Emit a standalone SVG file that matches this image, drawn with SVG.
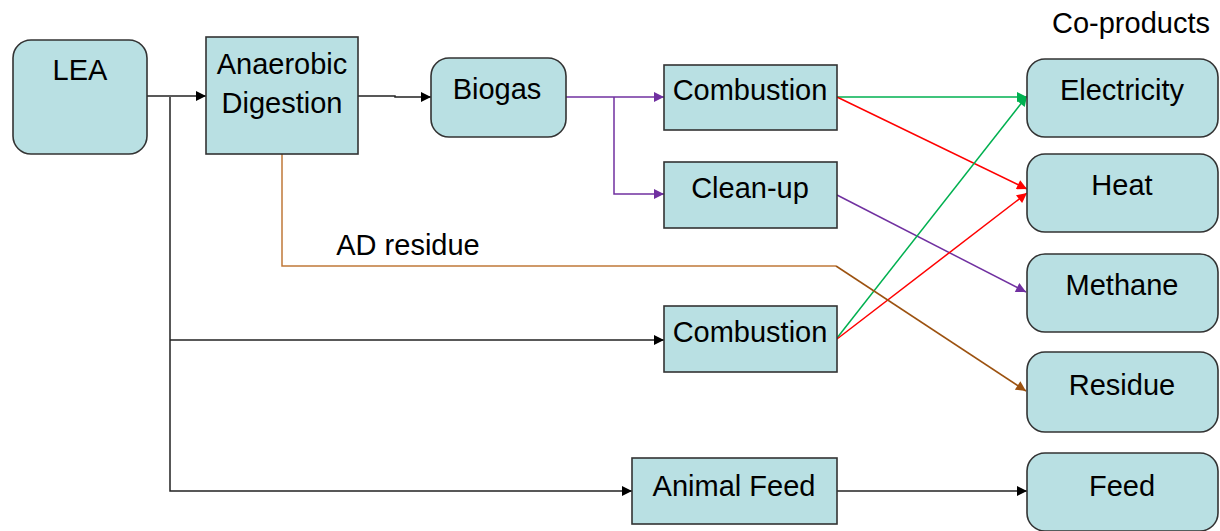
<svg xmlns="http://www.w3.org/2000/svg" width="1220" height="531" viewBox="0 0 1220 531">
<style>
.n{fill:#B9E0E3;stroke:#333;stroke-width:1.6}
.t{font-family:"Liberation Sans",Arial,sans-serif;font-size:29px;fill:#000;text-anchor:middle}
.c{fill:none;stroke-width:1.5}
.k{stroke:#222}
.p{stroke:#7030A0}
.g{stroke:#00B050}
.r{stroke:#FF0000}
.b1{stroke:#C07838}
.b2{stroke:#9C5210}
</style>
<defs>
<marker id="ak" viewBox="0 0 10 10" refX="10" refY="5" markerWidth="11" markerHeight="10" markerUnits="userSpaceOnUse" orient="auto"><path d="M0,0 L10,5 L0,10 Z" fill="#000"/></marker>
<marker id="ap" viewBox="0 0 10 10" refX="10" refY="5" markerWidth="11" markerHeight="10" markerUnits="userSpaceOnUse" orient="auto"><path d="M0,0 L10,5 L0,10 Z" fill="#7030A0"/></marker>
<marker id="ag" viewBox="0 0 10 10" refX="10" refY="5" markerWidth="11" markerHeight="10" markerUnits="userSpaceOnUse" orient="auto"><path d="M0,0 L10,5 L0,10 Z" fill="#00B050"/></marker>
<marker id="ar" viewBox="0 0 10 10" refX="10" refY="5" markerWidth="11" markerHeight="10" markerUnits="userSpaceOnUse" orient="auto"><path d="M0,0 L10,5 L0,10 Z" fill="#FF0000"/></marker>
<marker id="ab" viewBox="0 0 10 10" refX="10" refY="5" markerWidth="11" markerHeight="10" markerUnits="userSpaceOnUse" orient="auto"><path d="M0,0 L10,5 L0,10 Z" fill="#9C5210"/></marker>
</defs>
<rect width="1220" height="531" fill="#fff"/>
<g id="connectors">
<path class="c k" d="M147,96 H206" marker-end="url(#ak)"/>
<path class="c k" d="M170,97 V491 H632" marker-end="url(#ak)"/>
<path class="c k" d="M170,340 H664" marker-end="url(#ak)"/>
<path class="c k" d="M358,96 H395 V97 H431" marker-end="url(#ak)"/>
<path class="c p" d="M566,97 H664" marker-end="url(#ap)"/>
<path class="c p" d="M614,97 V194 H664" marker-end="url(#ap)"/>
<path class="c g" d="M837,97 H1027" marker-end="url(#ag)"/>
<path class="c r" d="M837,97 L1027,189" marker-end="url(#ar)"/>
<path class="c p" d="M837,195 L1026,292" marker-end="url(#ap)"/>
<path class="c g" d="M837,338 L1027,96" marker-end="url(#ag)"/>
<path class="c r" d="M837,339 L1027,193" marker-end="url(#ar)"/>
<path class="c b1" d="M282,154 V266 H836"/>
<path class="c b2" d="M836,266 L1026,391" marker-end="url(#ab)"/>
<path class="c k" d="M837,491 H1027" marker-end="url(#ak)"/>
</g>
<text class="t" x="408" y="255">AD residue</text>
<text class="t" x="1131" y="33">Co-products</text>
<g id="lea"><rect class="n" x="13" y="40" width="134" height="114" rx="18"/><text class="t" x="80" y="80">LEA</text></g>
<g id="ad"><rect class="n" x="206" y="37" width="152" height="117"/><text class="t" x="282" y="74">Anaerobic</text><text class="t" x="282" y="113">Digestion</text></g>
<g id="biogas"><rect class="n" x="431" y="58" width="135" height="79" rx="18"/><text class="t" x="497" y="99">Biogas</text></g>
<g id="combustion1"><rect class="n" x="664" y="65" width="173" height="65"/><text class="t" x="750" y="100">Combustion</text></g>
<g id="cleanup"><rect class="n" x="664" y="162" width="173" height="66"/><text class="t" x="750" y="198">Clean-up</text></g>
<g id="combustion2"><rect class="n" x="664" y="306" width="173" height="66"/><text class="t" x="750" y="342">Combustion</text></g>
<g id="animalfeed"><rect class="n" x="632" y="458" width="205" height="66"/><text class="t" x="734" y="496">Animal Feed</text></g>
<g id="electricity"><rect class="n" x="1027" y="59" width="191" height="78" rx="18"/><text class="t" x="1122" y="100">Electricity</text></g>
<g id="heat"><rect class="n" x="1027" y="154" width="191" height="78" rx="18"/><text class="t" x="1122" y="195">Heat</text></g>
<g id="methane"><rect class="n" x="1027" y="254" width="191" height="78" rx="18"/><text class="t" x="1122" y="295">Methane</text></g>
<g id="residue"><rect class="n" x="1027" y="352" width="191" height="80" rx="18"/><text class="t" x="1122" y="395">Residue</text></g>
<g id="feed"><rect class="n" x="1027" y="453" width="191" height="78" rx="18"/><text class="t" x="1122" y="496">Feed</text></g>
</svg>
